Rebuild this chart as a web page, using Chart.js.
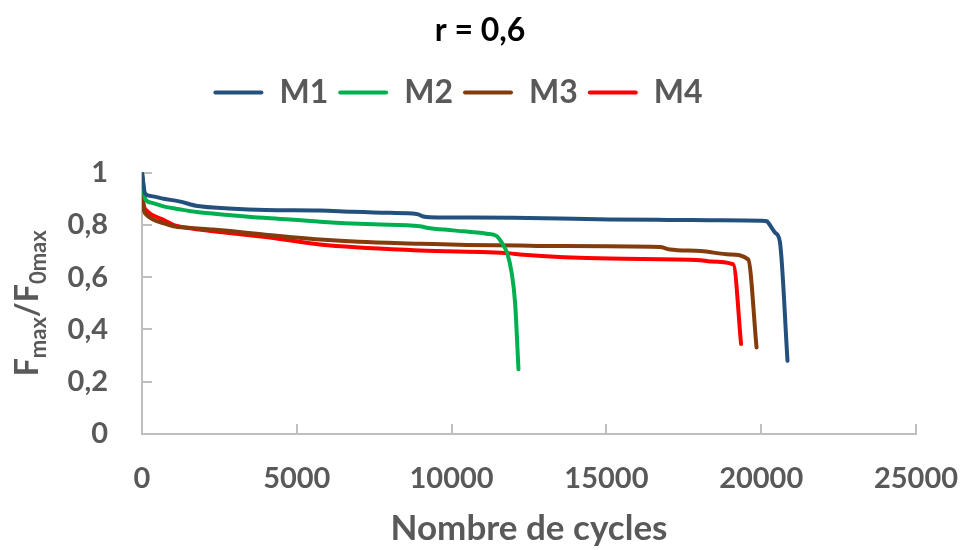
<!DOCTYPE html>
<html>
<head>
<meta charset="utf-8">
<script src="https://cdn.jsdelivr.net/npm/chart.js@4.4.1/dist/chart.umd.min.js"></script>
<style>
  html, body { margin: 0; padding: 0; background: #ffffff; }
  #wrap { width: 960px; height: 550px; }
</style>
</head>
<body>
<div id="wrap"><canvas id="c" width="960" height="550"></canvas></div>
<script>
// ---- Data ----
const chartTitle = 'r = 0,6';
const seriesNames = ['M1', 'M2', 'M3', 'M4'];
const seriesColors = ['#24507E', '#00B050', '#843C0C', '#FF0000'];
const xAxisTitle = 'Nombre de cycles';

const cyclesM1 = [0, 100, 300, 700, 1200, 1800, 2800, 4000, 5750, 6800, 8000, 8870, 9090, 9300, 10000, 12000, 13500, 15100, 17000, 18300, 19500, 20000, 20180, 20230, 20450, 20600, 20850];
const valuesM1 = [1.0, 0.92, 0.91, 0.90, 0.89, 0.872, 0.863, 0.857, 0.855, 0.85, 0.846, 0.842, 0.832, 0.829, 0.828, 0.827, 0.824, 0.821, 0.819, 0.818, 0.817, 0.816, 0.814, 0.808, 0.77, 0.738, 0.28];

const cyclesM2 = [0, 100, 300, 690, 1200, 1770, 2800, 3920, 5000, 5750, 7500, 8980, 9200, 10050, 11130, 11460, 11620, 11800, 11940, 12050, 12160];
const valuesM2 = [1.0, 0.90, 0.885, 0.871, 0.86, 0.849, 0.838, 0.827, 0.819, 0.812, 0.802, 0.795, 0.789, 0.779, 0.766, 0.757, 0.732, 0.69, 0.617, 0.503, 0.248];

const cyclesM3 = [0, 20, 60, 150, 370, 680, 1010, 1500, 2300, 3920, 5750, 7000, 8980, 10500, 12210, 12960, 16730, 17050, 18050, 18990, 19580, 19850];
const valuesM3 = [1.0, 0.90, 0.855, 0.838, 0.82, 0.807, 0.795, 0.789, 0.782, 0.763, 0.744, 0.735, 0.728, 0.723, 0.721, 0.719, 0.715, 0.706, 0.70, 0.687, 0.668, 0.331];

const cyclesM4 = [0, 20, 60, 150, 300, 680, 1010, 1500, 2300, 3920, 5750, 8980, 11890, 12210, 15120, 18050, 18350, 19100, 19350];
const valuesM4 = [1.0, 0.92, 0.875, 0.855, 0.84, 0.82, 0.80, 0.788, 0.776, 0.755, 0.725, 0.702, 0.691, 0.687, 0.671, 0.665, 0.66, 0.649, 0.344];

const xTickMin = 0, xTickMax = 25000, xTickStep = 5000;
const yTickMin = 0, yTickMax = 1, yTickStep = 0.2;

// ---- Build datasets ----
const allCycles = [cyclesM1, cyclesM2, cyclesM3, cyclesM4];
const allValues = [valuesM1, valuesM2, valuesM3, valuesM4];
const datasets = seriesNames.map((name, i) => ({
  label: name,
  data: allCycles[i].map((c, j) => ({ x: c, y: allValues[i][j] })),
  borderColor: seriesColors[i],
  backgroundColor: seriesColors[i],
  borderWidth: 4,
  pointRadius: 0,
  fill: false,
  cubicInterpolationMode: 'monotone',
  borderCapStyle: 'round',
  borderJoinStyle: 'round'
}));

Chart.defaults.font.family = 'Lato, "Open Sans", sans-serif';
Chart.defaults.font.weight = 'bold';
Chart.defaults.color = '#595959';

const AXIS_GRAY = '#BFBFBF';

// Y axis title with subscripts: F_max / F_0max
const yTitlePlugin = {
  id: 'yTitle',
  afterDraw(chart) {
    const ctx = chart.ctx;
    const area = chart.chartArea;
    const parts = [
      { t: 'F', sub: false }, { t: 'max', sub: true },
      { t: '/', sub: false },
      { t: 'F', sub: false }, { t: '0max', sub: true }
    ];
    const mainFont = 'bold 32px Lato, "Open Sans", sans-serif';
    const subFont = 'bold 22px Lato, "Open Sans", sans-serif';
    ctx.save();
    let total = 0;
    parts.forEach(p => { ctx.font = p.sub ? subFont : mainFont; p.w = ctx.measureText(p.t).width; total += p.w; });
    const cy = (area.top + area.bottom) / 2;
    const bx = area.left - 104;
    ctx.translate(bx, cy + total / 2);
    ctx.rotate(-Math.PI / 2);
    ctx.fillStyle = '#595959';
    ctx.textBaseline = 'alphabetic';
    ctx.textAlign = 'left';
    let x = 0;
    parts.forEach(p => {
      ctx.font = p.sub ? subFont : mainFont;
      ctx.fillText(p.t, x, p.sub ? 8 : 0);
      x += p.w;
    });
    ctx.restore();
  }
};

// center the title on the full canvas width
const titleCenterPlugin = {
  id: 'titleCenter',
  afterLayout(chart) {
    if (chart.titleBlock) {
      chart.titleBlock.left = 0;
      chart.titleBlock.right = chart.width;
    }
  }
};

new Chart(document.getElementById('c'), {
  type: 'line',
  data: { datasets },
  options: {
    responsive: false,
    animation: false,
    events: [],
    layout: { padding: { left: 0, right: 44, top: 0, bottom: 0 } },
    plugins: {
      title: {
        display: true,
        text: chartTitle,
        color: '#000000',
        font: { size: 32, weight: 'bold' },
        padding: { top: 11, bottom: 17 }
      },
      // empty spacer placed between legend and plot area
      subtitle: {
        display: true,
        text: ' ',
        weight: 500,
        font: { size: 1 },
        padding: { top: 0, bottom: 53 }
      },
      legend: {
        display: true,
        position: 'top',
        labels: {
          font: { size: 32, weight: 'bold' },
          color: '#595959',
          boxWidth: 50,
          boxHeight: 4,
          padding: 10,
          generateLabels: (chart) => chart.data.datasets.map((ds, i) => ({
            text: ds.label,
            fillStyle: ds.borderColor,
            strokeStyle: ds.borderColor,
            lineWidth: 0,
            borderRadius: 2,
            hidden: false,
            datasetIndex: i,
            fontColor: '#595959'
          }))
        }
      },
      tooltip: { enabled: false }
    },
    scales: {
      x: {
        type: 'linear',
        min: xTickMin,
        max: xTickMax,
        border: { display: true, color: AXIS_GRAY, width: 2 },
        grid: { display: true, drawOnChartArea: false, drawTicks: true, tickLength: -10, color: AXIS_GRAY, lineWidth: 2 },
        ticks: {
          stepSize: xTickStep,
          autoSkip: false,
          maxRotation: 0,
          padding: 37,
          color: '#595959',
          font: { size: 29, weight: 'bold' },
          callback: (v) => String(v)
        },
        title: {
          display: true,
          text: xAxisTitle,
          color: '#595959',
          font: { size: 35, weight: 'bold' },
          padding: { top: 0, bottom: 0 }
        },
        afterFit: (scale) => { scale.height = 116; scale.paddingLeft = 10; scale.paddingRight = 40; }
      },
      y: {
        type: 'linear',
        min: yTickMin,
        max: yTickMax,
        border: { display: true, color: AXIS_GRAY, width: 2 },
        grid: { display: true, drawOnChartArea: false, drawTicks: true, tickLength: -10, color: AXIS_GRAY, lineWidth: 2 },
        ticks: {
          stepSize: yTickStep,
          padding: 44,
          color: '#595959',
          font: { size: 29, weight: 'bold' },
          callback: (v) => String(Math.round(v * 10) / 10).replace('.', ',')
        },
        title: { display: false },
        afterFit: (scale) => { scale.width = 142; scale.paddingTop = 0; scale.paddingBottom = 0; }
      }
    }
  },
  plugins: [yTitlePlugin, titleCenterPlugin]
});
</script>
</body>
</html>
